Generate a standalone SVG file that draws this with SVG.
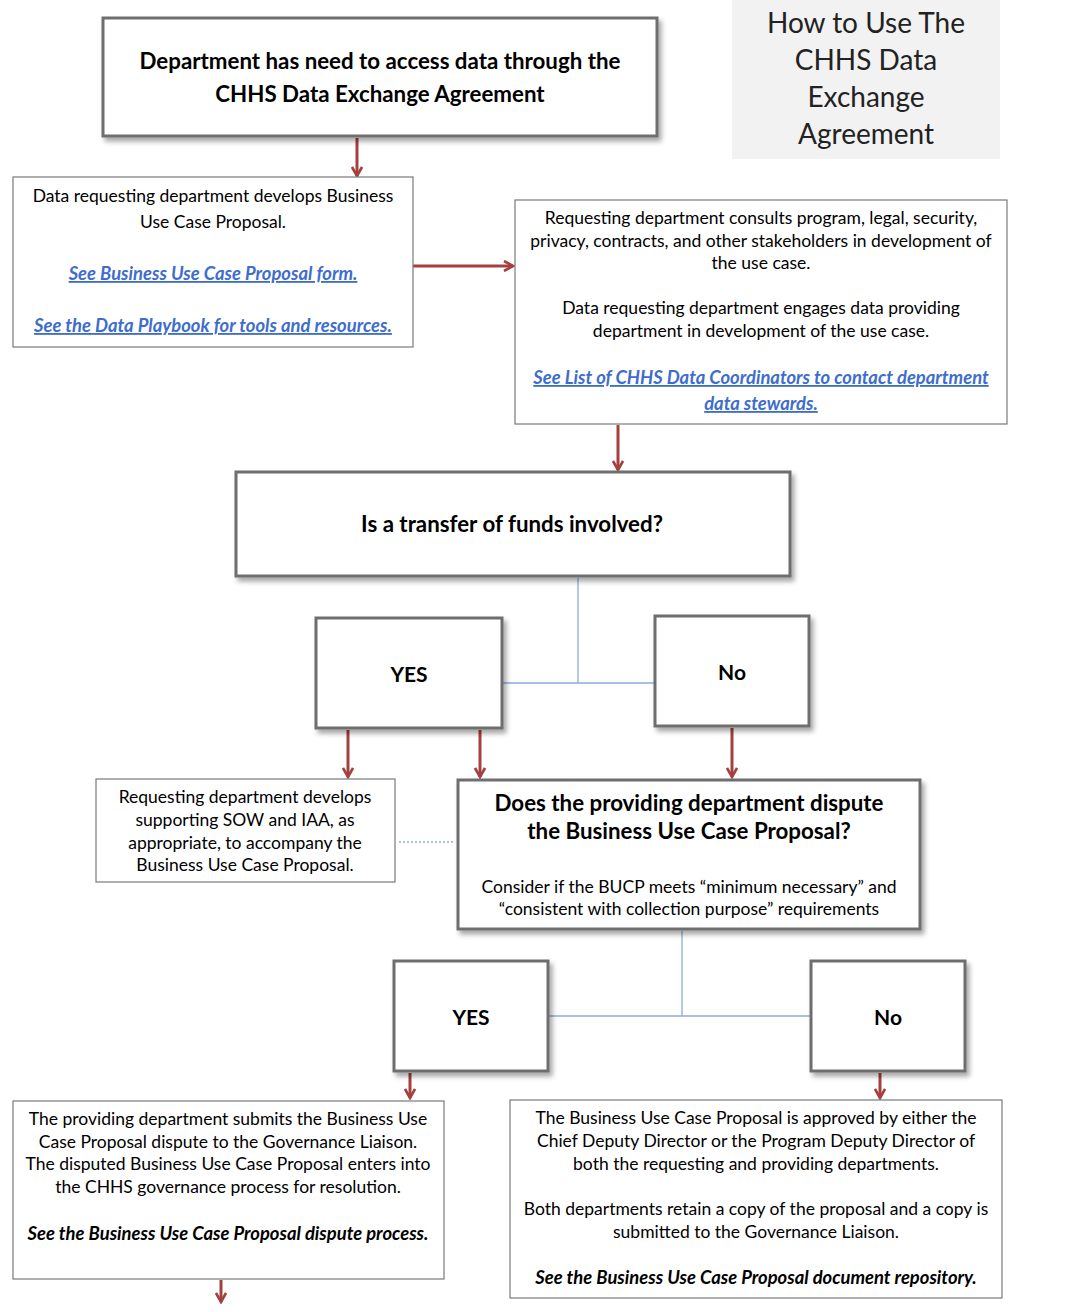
<svg xmlns="http://www.w3.org/2000/svg" width="1082" height="1312" viewBox="0 0 1082 1312">
<defs>
<style>
.t{font-family:Lato,"Open Sans","Liberation Sans",sans-serif;fill:#000;text-anchor:middle}
.n{font-size:17.5px}
.b{font-size:22.3px;font-weight:bold}
.yn{font-size:21px;font-weight:bold}
.lk{font-size:18.4px;font-weight:bold;font-style:italic;fill:#3e6dcc;text-decoration:underline}
.bi{font-size:18.4px;font-weight:bold;font-style:italic}
.title{font-size:28px;fill:#222}
.thick{fill:#fff;stroke:#6e6e6e;stroke-width:3;filter:url(#sh)}
.thin{fill:#fff;stroke:#7a7a7a;stroke-width:1.2}
.arr{stroke:#a4403d;stroke-width:3;fill:none;marker-end:url(#ah)}
.blue{stroke:#8eaadb;stroke-width:1.3;fill:none}
</style>
<filter id="sh" x="-10%" y="-10%" width="120%" height="130%">
<feDropShadow dx="3" dy="4" stdDeviation="2.5" flood-color="#000" flood-opacity="0.35"/>
</filter>
<marker id="ah" viewBox="0 0 12 12" refX="10" refY="6" markerWidth="12" markerHeight="12" markerUnits="userSpaceOnUse" orient="auto">
<path d="M1,1 L10,6 L1,11" fill="none" stroke="#a4403d" stroke-width="2.6"/>
</marker>
</defs>
<rect width="1082" height="1312" fill="#fff"/>

<g id="title">
<rect x="732" y="0" width="268" height="159" fill="#f2f2f2"/>
<text class="t title" x="866" y="33">How to Use The</text>
<text class="t title" x="866" y="70">CHHS Data</text>
<text class="t title" x="866" y="107">Exchange</text>
<text class="t title" x="866" y="144">Agreement</text>
</g>

<g id="connectors">
<line class="arr" x1="357" y1="138" x2="357" y2="176"/>
<line class="arr" x1="413" y1="266" x2="513" y2="266"/>
<line class="arr" x1="618" y1="425" x2="618" y2="470"/>
<polyline class="blue" points="578,578 578,683"/>
<line class="blue" x1="503" y1="683" x2="655" y2="683"/>
<line class="arr" x1="348" y1="730" x2="348" y2="777"/>
<line class="arr" x1="480" y1="730" x2="480" y2="777"/>
<line class="arr" x1="732" y1="728" x2="732" y2="777"/>
<line stroke="#8eaadb" stroke-width="1.3" stroke-dasharray="2,2" x1="399" y1="842" x2="455" y2="842"/>
<line class="blue" x1="682" y1="931" x2="682" y2="1016"/>
<line class="blue" x1="549" y1="1016" x2="811" y2="1016"/>
<line class="arr" x1="410" y1="1073" x2="410" y2="1098"/>
<line class="arr" x1="880" y1="1073" x2="880" y2="1098"/>
<line class="arr" x1="221" y1="1280" x2="221" y2="1302"/>
</g>

<g id="start">
<rect class="thick" x="103" y="18" width="554" height="118"/>
<text class="t b" x="380" y="69">Department has need to access data through the</text>
<text class="t b" x="380" y="102">CHHS Data Exchange Agreement</text>
</g>

<g id="develop">
<rect class="thin" x="13" y="177" width="400" height="170"/>
<text class="t n" x="213" y="202">Data requesting department develops Business</text>
<text class="t n" x="213" y="228">Use Case Proposal.</text>
<text class="t lk" x="213" y="280">See Business Use Case Proposal form.</text>
<text class="t lk" x="213" y="332"> See the Data Playbook for tools and resources.</text>
</g>

<g id="consult">
<rect class="thin" x="515" y="200" width="492" height="224"/>
<text class="t n" x="761" y="224">Requesting department consults program, legal, security,</text>
<text class="t n" x="761" y="247">privacy, contracts, and other stakeholders in development of</text>
<text class="t n" x="761" y="269">the use case.</text>
<text class="t n" x="761" y="314">Data requesting department engages data providing</text>
<text class="t n" x="761" y="337">department in development of the use case.</text>
<text class="t lk" x="761" y="384">See List of CHHS Data Coordinators to contact department</text>
<text class="t lk" x="761" y="410">data stewards.</text>
</g>

<g id="funds">
<rect class="thick" x="236" y="472" width="554" height="104"/>
<text class="t b" x="512" y="532">Is a transfer of funds involved?</text>
</g>

<g id="yes1">
<rect class="thick" x="316" y="618" width="186" height="110"/>
<text class="t yn" x="409" y="682">YES</text>
</g>

<g id="no1">
<rect class="thick" x="655" y="616" width="154" height="110"/>
<text class="t yn" x="732" y="680">No</text>
</g>

<g id="sow">
<rect class="thin" x="96" y="779" width="299" height="103"/>
<text class="t n" x="245" y="803">Requesting department develops</text>
<text class="t n" x="245" y="826">supporting SOW and IAA, as</text>
<text class="t n" x="245" y="849">appropriate, to accompany the</text>
<text class="t n" x="245" y="871">Business Use Case Proposal.</text>
</g>

<g id="dispute">
<rect class="thick" x="458" y="780" width="462" height="149"/>
<text class="t b" x="689" y="811">Does the providing department dispute</text>
<text class="t b" x="689" y="839">the Business Use Case Proposal?</text>
<text class="t n" x="689" y="893">Consider if the BUCP meets “minimum necessary” and</text>
<text class="t n" x="689" y="915">“consistent with collection purpose” requirements</text>
</g>

<g id="yes2">
<rect class="thick" x="394" y="961" width="154" height="110"/>
<text class="t yn" x="471" y="1025">YES</text>
</g>

<g id="no2">
<rect class="thick" x="811" y="961" width="154" height="110"/>
<text class="t yn" x="888" y="1025">No</text>
</g>

<g id="submit">
<rect class="thin" x="13" y="1101" width="431" height="178"/>
<text class="t n" x="228" y="1125">The providing department submits the Business Use</text>
<text class="t n" x="228" y="1148">Case Proposal dispute to the Governance Liaison.</text>
<text class="t n" x="228" y="1170">The disputed Business Use Case Proposal enters into</text>
<text class="t n" x="228" y="1193">the CHHS governance process for resolution.</text>
<text class="t bi" x="228" y="1240">See the Business Use Case Proposal dispute process.</text>
</g>

<g id="approved">
<rect class="thin" x="510" y="1100" width="492" height="198"/>
<text class="t n" x="756" y="1124">The Business Use Case Proposal is approved by either the</text>
<text class="t n" x="756" y="1147">Chief Deputy Director or the Program Deputy Director of</text>
<text class="t n" x="756" y="1170">both the requesting and providing departments.</text>
<text class="t n" x="756" y="1215">Both departments retain a copy of the proposal and a copy is</text>
<text class="t n" x="756" y="1238">submitted to the Governance Liaison.</text>
<text class="t bi" x="756" y="1284">See the Business Use Case Proposal document repository.</text>
</g>
</svg>
